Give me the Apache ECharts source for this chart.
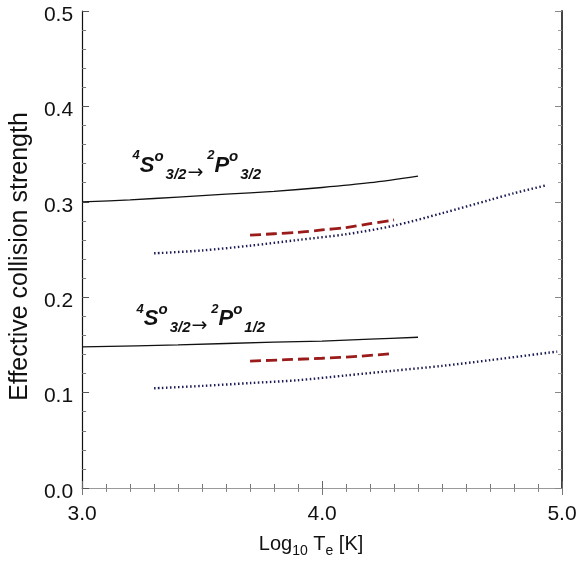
<!DOCTYPE html>
<html>
<head>
<meta charset="utf-8">
<script src="https://cdn.jsdelivr.net/npm/echarts@6/dist/echarts.min.js"></script>
<style>
  html, body { margin: 0; padding: 0; background: #fff; }
  #chart { width: 582px; height: 563px; }
</style>
</head>
<body>
<div id="chart"></div>
<script>
// log10 Te [K] vs effective collision strength, two fine-structure transitions
// 4S°3/2 -> 2P°3/2
const upperSolid  = [[3.0, 0.300], [3.2, 0.302], [3.4, 0.305], [3.6, 0.308], [3.8, 0.311], [4.0, 0.315], [4.2, 0.320], [4.4, 0.327]];
const upperDashed = [[3.7, 0.265], [3.8, 0.2665], [3.9, 0.268], [4.0, 0.2705], [4.1, 0.273], [4.2, 0.277], [4.3, 0.281]];
const upperDotted = [[3.3, 0.246], [3.5, 0.249], [3.7, 0.254], [3.9, 0.260], [4.1, 0.266], [4.3, 0.275], [4.5, 0.288], [4.7, 0.302], [4.8, 0.309], [4.93, 0.317]];
// 4S°3/2 -> 2P°1/2
const lowerSolid  = [[3.0, 0.148], [3.4, 0.150], [3.8, 0.153], [4.0, 0.154], [4.2, 0.156], [4.4, 0.158]];
const lowerDashed = [[3.7, 0.133], [3.85, 0.1345], [4.0, 0.136], [4.15, 0.138], [4.3, 0.141]];
const lowerDotted = [[3.3, 0.1045], [3.5, 0.107], [3.7, 0.110], [3.9, 0.113], [4.1, 0.118], [4.3, 0.123], [4.5, 0.128], [4.7, 0.134], [4.98, 0.143]];

// transition labels and the data point where each label's top-left corner sits
const transitionLabels = [
  '{sup|4}{main|S}{supo|o}{sub|3/2}{arr|→}{gap| }{sup|2}{main|P}{supo|o}{sub|3/2}',
  '{sup|4}{main|S}{supo|o}{sub|3/2}{arr|→}{gap| }{sup|2}{main|P}{supo|o}{sub|1/2}'
];
const labelAnchors = [[3.21, 0.355], [3.227, 0.1945]];

const FONT = 'Liberation Sans, Arial, Helvetica, sans-serif';

const chart = echarts.init(document.getElementById('chart'), null, { renderer: 'canvas' });

const tickFont = { fontFamily: FONT, fontSize: 21, color: '#111' };

function lineSeries(data, style) {
  return {
    type: 'line',
    data: data,
    showSymbol: false,
    smooth: 0.3,
    silent: true,
    lineStyle: style,
    z: 3
  };
}

chart.setOption({
  animation: false,
  backgroundColor: '#fff',
  grid: { left: 80.5, right: 20, top: 11, bottom: 72, containLabel: false },
  xAxis: [
    {
      type: 'value', min: 3, max: 5, interval: 1, position: 'bottom',
      axisLine: { lineStyle: { color: '#8a8a8a', width: 1 } },
      axisTick: { inside: true, length: 7, lineStyle: { color: '#666' } },
      minorTick: { show: true, splitNumber: 10, length: 4, lineStyle: { color: '#777' } },
      splitLine: { show: false },
      axisLabel: Object.assign({ margin: 16, formatter: v => v.toFixed(1) }, tickFont),
      name: '{n|Log}{s|10}{n| T}{s|e}{n| [K]}',
      nameLocation: 'middle',
      nameGap: 46,
      nameTextStyle: {
        padding: [0, 22, 0, 0],
        rich: {
          n: { fontFamily: FONT, fontSize: 20, color: '#111', lineHeight: 24, verticalAlign: 'top' },
          s: { fontFamily: FONT, fontSize: 14, color: '#111', lineHeight: 15, verticalAlign: 'bottom', padding: [13, 0, 0, 0] }
        }
      }
    },
    {
      type: 'value', min: 3, max: 5, interval: 1, position: 'top',
      axisLine: { lineStyle: { color: '#9a9a9a', width: 1 } },
      axisTick: { inside: true, length: 7, lineStyle: { color: '#777' } },
      minorTick: { show: true, splitNumber: 10, length: 4, lineStyle: { color: '#888' } },
      splitLine: { show: false },
      axisLabel: { show: false }
    }
  ],
  yAxis: [
    {
      type: 'value', min: 0, max: 0.5, interval: 0.1, position: 'left',
      axisLine: { show: true, lineStyle: { color: '#111', width: 1.2 } },
      axisTick: { show: true, inside: true, length: 7, lineStyle: { color: '#555' } },
      minorTick: { show: true, splitNumber: 5, length: 4, lineStyle: { color: '#777' } },
      splitLine: { show: false },
      axisLabel: {
        margin: 9,
        formatter: v => '{v|' + v.toFixed(1) + '}',
        rich: { v: Object.assign({ padding: [8, 0, 0, 0] }, tickFont) }
      },
      name: 'Effective collision strength',
      nameLocation: 'middle',
      nameGap: 46,
      nameTextStyle: { fontFamily: FONT, fontSize: 25, color: '#111', padding: [0, 14, 0, 0] }
    },
    {
      type: 'value', min: 0, max: 0.5, interval: 0.1, position: 'right',
      axisLine: { show: true, lineStyle: { color: '#444', width: 2 } },
      axisTick: { show: true, inside: true, length: 7, lineStyle: { color: '#888' } },
      minorTick: { show: true, splitNumber: 5, length: 4, lineStyle: { color: '#999' } },
      splitLine: { show: false },
      axisLabel: { show: false }
    }
  ],
  series: [
    lineSeries(upperSolid,  { color: '#111', width: 1.3, type: 'solid' }),
    lineSeries(upperDashed, { color: '#9b1b1b', width: 2.8, type: [11, 5] }),
    lineSeries(upperDotted, { color: '#1c1c55', width: 2.4, type: [1.5, 2.5] }),
    lineSeries(lowerSolid,  { color: '#111', width: 1.3, type: 'solid' }),
    lineSeries(lowerDashed, { color: '#9b1b1b', width: 2.8, type: [11, 5] }),
    lineSeries(lowerDotted, { color: '#1c1c55', width: 2.4, type: [1.5, 2.5] })
  ]
});

// transition labels placed at data-space anchors
const bi = { fontFamily: FONT, fontWeight: 'bold', fontStyle: 'italic', fill: '#111' };
const rich = {
  sup:  Object.assign({ fontSize: 13, lineHeight: 18, verticalAlign: 'top' }, bi),
  supo: Object.assign({ fontSize: 15, lineHeight: 18, verticalAlign: 'top' }, bi),
  main: Object.assign({ fontSize: 22, lineHeight: 32, verticalAlign: 'middle' }, bi),
  sub:  Object.assign({ fontSize: 15, lineHeight: 18, verticalAlign: 'bottom', padding: [0, 1, 0, 2] }, bi),
  arr:  { fontFamily: 'DejaVu Sans', fontSize: 19, lineHeight: 33, verticalAlign: 'bottom', fill: '#111' },
  gap:  { fontFamily: FONT, fontSize: 14, lineHeight: 18, verticalAlign: 'bottom' }
};
chart.setOption({
  graphic: transitionLabels.map((txt, i) => {
    const p = chart.convertToPixel({ xAxisIndex: 0, yAxisIndex: 0 }, labelAnchors[i]);
    return {
      type: 'text', x: p[0], y: p[1], silent: true, z: 10,
      style: { text: txt, rich: rich, align: 'left', verticalAlign: 'top' }
    };
  })
});
</script>
</body>
</html>
